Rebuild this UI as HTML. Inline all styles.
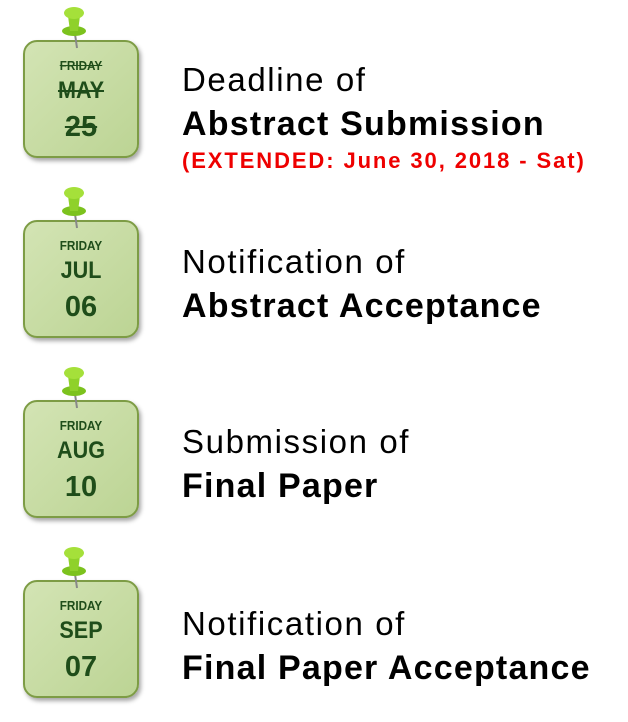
<!DOCTYPE html>
<html><head><style>
body{margin:0;width:628px;height:722px;background:#fff;position:relative;font-family:"Liberation Sans",sans-serif;overflow:hidden}
.box{position:absolute;left:23px;width:112px;height:114px;border:2px solid #7d9c45;border-radius:14px;background:linear-gradient(135deg,#d3e4b4,#bcd494);box-shadow:2px 3px 4px rgba(0,0,0,.35);text-align:center;color:#1f4d1a;font-weight:bold}
.d{position:absolute;left:0;right:0;top:16px;font-size:13px;transform:scaleX(.9)}
.m{position:absolute;left:0;right:0;top:35px;font-size:24px;transform:scaleX(.9)}
.n{position:absolute;left:0;right:0;top:69px;font-size:29px}
.s{text-decoration:line-through}
.pin{position:absolute;width:36px;height:46px}
.t{position:absolute;left:182px;font-size:33px;color:#000;line-height:44px;letter-spacing:1.6px}
.t b{font-size:34px;letter-spacing:1.2px}
.r{position:absolute;left:182px;font-size:22px;color:#e00;font-weight:bold;letter-spacing:1.9px}
</style></head><body>
<svg width="0" height="0" style="position:absolute"><defs><symbol id="p" viewBox="0 0 36 46"><line x1="17" y1="30" x2="19" y2="44" stroke="#888" stroke-width="2"/><ellipse cx="16" cy="27" rx="12" ry="5" fill="#7cc21e"/><path d="M10 12 L22 12 L20 27 L12 27 Z" fill="#8fd12a"/><ellipse cx="16" cy="9" rx="10" ry="6" fill="#a5e03a"/></symbol></defs></svg>

<div class="box" style="top:40px"><div class="d s">FRIDAY</div><div class="m s">MAY</div><div class="n s">25</div></div>
<svg class="pin" style="left:58px;top:4px"><use href="#p"/></svg>
<div class="t" style="top:58px">Deadline of<br><b>Abstract Submission</b></div>
<div class="r" style="top:148px">(EXTENDED: June 30, 2018 - Sat)</div>

<div class="box" style="top:220px"><div class="d">FRIDAY</div><div class="m">JUL</div><div class="n">06</div></div>
<svg class="pin" style="left:58px;top:184px"><use href="#p"/></svg>
<div class="t" style="top:240px">Notification of<br><b>Abstract Acceptance</b></div>

<div class="box" style="top:400px"><div class="d">FRIDAY</div><div class="m">AUG</div><div class="n">10</div></div>
<svg class="pin" style="left:58px;top:364px"><use href="#p"/></svg>
<div class="t" style="top:420px">Submission of<br><b>Final Paper</b></div>

<div class="box" style="top:580px"><div class="d">FRIDAY</div><div class="m">SEP</div><div class="n">07</div></div>
<svg class="pin" style="left:58px;top:544px"><use href="#p"/></svg>
<div class="t" style="top:602px">Notification of<br><b>Final Paper Acceptance</b></div>
</body></html>
